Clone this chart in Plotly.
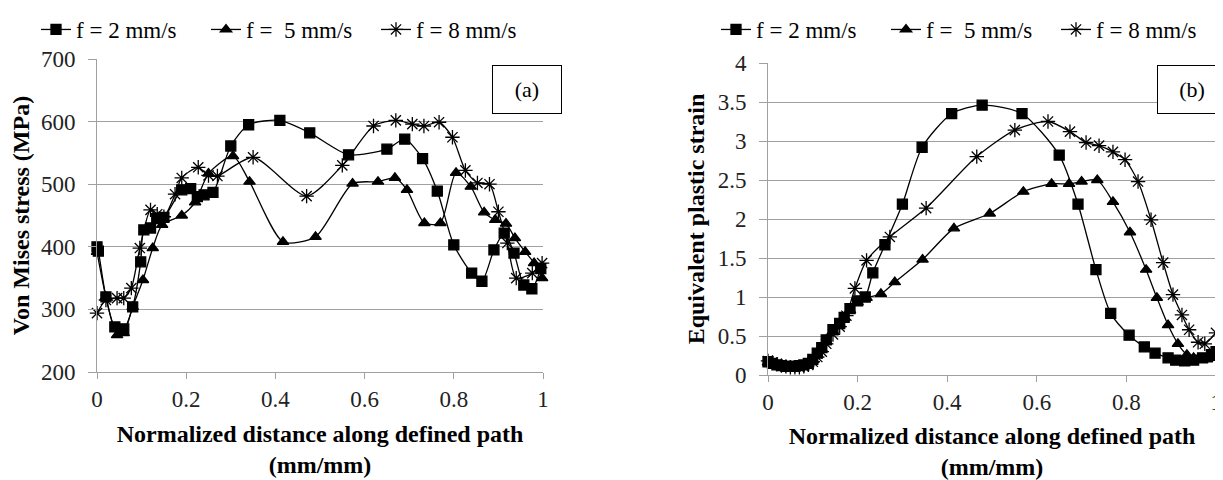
import plotly.graph_objects as go

# ---------------- (a) Von Mises stress ----------------
a_x2 = [0, 0.003, 0.02, 0.04, 0.06, 0.08, 0.098, 0.105, 0.12, 0.134, 0.15, 0.19, 0.21, 0.225, 0.24, 0.26, 0.30, 0.34, 0.41, 0.477, 0.564, 0.65, 0.69, 0.73, 0.763, 0.80, 0.84, 0.863, 0.89, 0.913, 0.935, 0.957, 0.975, 0.995]
a_y2 = [400, 393, 320, 272, 269, 304, 376, 427, 430, 445, 447, 491, 493, 480, 483, 487, 561, 595, 602, 582, 547, 556, 572, 541, 489, 403, 358, 345, 395, 422, 390, 339, 333, 365]

a_x5 = [0, 0.02, 0.045, 0.06, 0.08, 0.103, 0.125, 0.146, 0.19, 0.22, 0.25, 0.305, 0.342, 0.417, 0.49, 0.573, 0.63, 0.668, 0.695, 0.734, 0.77, 0.805, 0.838, 0.868, 0.893, 0.917, 0.937, 0.96, 0.98, 0.998]
a_y5 = [392, 320, 259, 262, 304, 347, 398, 435, 450, 471, 517, 545, 504, 408, 416, 501, 504, 510, 491, 438, 438, 518, 496, 455, 443, 437, 414, 392, 374, 350]

a_x8 = [0, 0.02, 0.045, 0.06, 0.077, 0.096, 0.12, 0.135, 0.15, 0.175, 0.19, 0.227, 0.25, 0.27, 0.35, 0.47, 0.55, 0.62, 0.67, 0.707, 0.733, 0.767, 0.797, 0.826, 0.853, 0.88, 0.90, 0.92, 0.94, 0.976, 0.998]
a_y8 = [294, 315, 318, 318, 334, 398, 459, 452, 448, 484, 510, 527, 514, 513, 543, 481, 530, 593, 602, 596, 593, 599, 575, 522, 502, 500, 456, 406, 350, 358, 374]

# ---------------- (b) Equivalent plastic strain ----------------
b_x2 = [0, 0.01, 0.02, 0.03, 0.04, 0.05, 0.06, 0.07, 0.08, 0.09, 0.10, 0.11, 0.12, 0.13, 0.145, 0.16, 0.17, 0.183, 0.20, 0.217, 0.234, 0.261, 0.30, 0.344, 0.41, 0.478, 0.567, 0.65, 0.692, 0.732, 0.765, 0.806, 0.84, 0.864, 0.893, 0.91, 0.93, 0.95, 0.97, 0.99, 1.0]
b_y2 = [0.17, 0.15, 0.13, 0.12, 0.11, 0.11, 0.11, 0.12, 0.13, 0.15, 0.2, 0.28, 0.35, 0.45, 0.58, 0.66, 0.74, 0.85, 0.95, 1.0, 1.31, 1.67, 2.19, 2.92, 3.35, 3.46, 3.35, 2.82, 2.19, 1.35, 0.79, 0.51, 0.36, 0.28, 0.22, 0.19, 0.18, 0.19, 0.22, 0.26, 0.3]

b_x5 = [0, 0.01, 0.02, 0.03, 0.04, 0.05, 0.06, 0.07, 0.08, 0.09, 0.10, 0.11, 0.12, 0.13, 0.145, 0.16, 0.17, 0.183, 0.20, 0.22, 0.252, 0.283, 0.345, 0.415, 0.495, 0.57, 0.633, 0.672, 0.70, 0.735, 0.77, 0.808, 0.844, 0.868, 0.893, 0.915, 0.935, 0.95, 0.965, 0.98, 1.0]
b_y5 = [0.16, 0.14, 0.12, 0.11, 0.1, 0.1, 0.1, 0.11, 0.12, 0.14, 0.19, 0.26, 0.33, 0.43, 0.56, 0.65, 0.73, 0.83, 0.93, 0.99, 1.04, 1.19, 1.48, 1.88, 2.07, 2.35, 2.45, 2.45, 2.48, 2.5, 2.22, 1.83, 1.35, 0.99, 0.64, 0.40, 0.26, 0.22, 0.2, 0.2, 0.22]

b_x8 = [0, 0.01, 0.02, 0.03, 0.04, 0.05, 0.06, 0.07, 0.08, 0.09, 0.10, 0.11, 0.12, 0.13, 0.145, 0.16, 0.175, 0.194, 0.22, 0.272, 0.353, 0.466, 0.551, 0.625, 0.674, 0.71, 0.739, 0.77, 0.797, 0.826, 0.855, 0.882, 0.904, 0.924, 0.94, 0.96, 0.975, 1.0]
b_y8 = [0.18, 0.16, 0.14, 0.12, 0.11, 0.1, 0.1, 0.1, 0.11, 0.13, 0.17, 0.23, 0.3, 0.4, 0.52, 0.62, 0.76, 1.11, 1.47, 1.77, 2.14, 2.8, 3.14, 3.25, 3.12, 2.98, 2.94, 2.86, 2.76, 2.48, 1.99, 1.44, 1.03, 0.77, 0.58, 0.42, 0.4, 0.54]

names = ["f = 2 mm/s", "f =\u00a0 5 mm/s", "f = 8 mm/s"]
x_ticks = [0, 0.2, 0.4, 0.6, 0.8, 1]
x_tick_text = ["0", "0.2", "0.4", "0.6", "0.8", "1"]
a_ticks = [200, 300, 400, 500, 600, 700]
b_ticks = [0, 0.5, 1, 1.5, 2, 2.5, 3, 3.5, 4]
b_tick_text = ["0", "0.5", "1", "1.5", "2", "2.5", "3", "3.5", "4"]

FONT = "Liberation Serif, Times New Roman, serif"
symbols = ["square", "triangle-up", "asterisk-open"]
sizes = [10, 10, 12]

fig = go.Figure()

def add(x, y, i, xa, ya, legend):
    fig.add_trace(go.Scatter(
        x=x, y=y, name=names[i], mode="lines+markers", cliponaxis=False,
        line=dict(color="black", width=1.3, shape="spline", smoothing=0.7),
        marker=dict(symbol=symbols[i], size=sizes[i], color="black",
                    line=dict(color="black", width=1.3)),
        xaxis=xa, yaxis=ya, legend=legend))

for i, (x, y) in enumerate([(a_x2, a_y2), (a_x5, a_y5), (a_x8, a_y8)]):
    add(x, y, i, "x", "y", "legend")
for i, (x, y) in enumerate([(b_x2, b_y2), (b_x5, b_y5), (b_x8, b_y8)]):
    add(x, y, i, "x2", "y2", "legend2")

# page body has an 8px default margin; size the figure so the page is 1223x480
OFF = 8
W, H = 1223 - OFF, 480 - OFF
def px(v): return (v - OFF) / W
def py(v): return 1 - (v - OFF) / H

GRID = "#a0a0a0"
tickfont = dict(family=FONT, size=23, color="#222")
titlefont = dict(family=FONT, size=24, color="black")

xcommon = dict(showgrid=False, zeroline=False, showline=True, linecolor=GRID, linewidth=1,
               ticks="outside", tickcolor=GRID, ticklen=6, tickfont=tickfont,
               range=[0, 1], tickvals=x_ticks, ticktext=x_tick_text,
               ticklabeloverflow="allow", automargin=False)
ycommon = dict(showgrid=True, gridcolor=GRID, gridwidth=1, zeroline=False, showline=True,
               linecolor=GRID, linewidth=1, ticks="outside", tickcolor=GRID, ticklen=8,
               tickfont=tickfont, ticklabelstandoff=8, automargin=False)

xtitle = "<b>Normalized distance along defined path<br>(mm/mm)</b>"

legend_common = dict(orientation="h", yanchor="top", y=1, xanchor="left",
                     font=dict(family=FONT, size=23), itemwidth=30, tracegroupgap=0,
                     entrywidth=125, entrywidthmode="pixels", bgcolor="rgba(0,0,0,0)")

fig.update_layout(
    width=W, height=H,
    margin=dict(l=0, r=0, t=0, b=0, autoexpand=False),
    plot_bgcolor="white", paper_bgcolor="white",
    font=dict(family=FONT, color="black"),
    xaxis=dict(domain=[px(97), px(543)], anchor="y", **xcommon,
               title=dict(text=xtitle, font=titlefont, standoff=14)),
    yaxis=dict(domain=[py(372), py(59)], range=[200, 700], tickvals=a_ticks, anchor="x", **ycommon,
               title=dict(text="<b>Von Mises stress (MPa)</b>", font=titlefont, standoff=6)),
    xaxis2=dict(domain=[px(768), px(1216)], anchor="y2", **xcommon,
                title=dict(text=xtitle, font=titlefont, standoff=14)),
    yaxis2=dict(domain=[py(375), py(63)], range=[0, 4], tickvals=b_ticks, ticktext=b_tick_text,
                anchor="x2", **ycommon,
                title=dict(text="<b>Equivalent plastic strain</b>", font=titlefont, standoff=6)),
    legend=dict(x=px(36), **legend_common),
    legend2=dict(x=px(716), **legend_common),
    showlegend=True,
)

for label, cx in [("(a)", 527), ("(b)", 1192)]:
    fig.add_annotation(text=label, xref="paper", yref="paper", x=px(cx), y=py(90),
                       xanchor="center", yanchor="middle",
                       showarrow=False, font=dict(family=FONT, size=22, color="black"),
                       bordercolor="black", borderwidth=1, borderpad=0, width=68, height=47,
                       bgcolor="white")

fig.write_html("out.html")
